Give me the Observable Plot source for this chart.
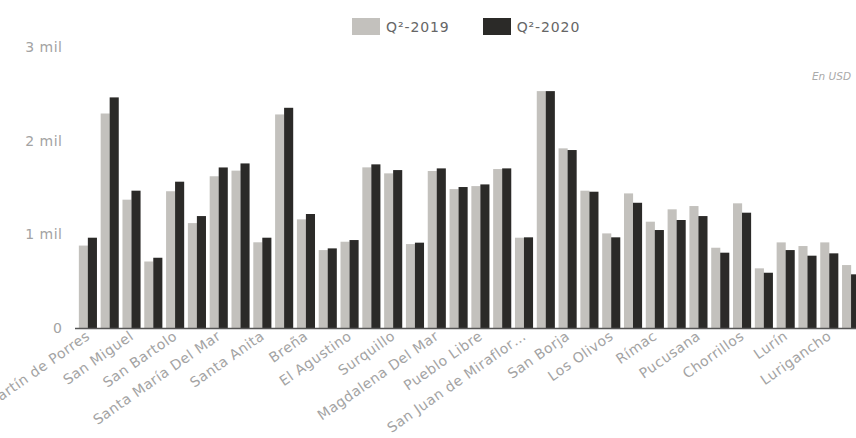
<!DOCTYPE html>
<html>
<head>
<meta charset="utf-8">
<script src="https://cdn.jsdelivr.net/npm/d3@7"></script>
<script src="https://cdn.jsdelivr.net/npm/@observablehq/plot@0.6"></script>
<style>
  html, body { margin: 0; padding: 0; background: #fff; overflow: hidden; }
  #wrap { position: relative; width: 856px; height: 438px; font-family: "DejaVu Sans", sans-serif; }
  #legend { position: absolute; top: 18px; left: 352px; display: flex; align-items: center; font-size: 14px; letter-spacing: 0.9px; color: #666; }
  .sw { width: 28px; height: 17px; margin-right: 6px; }
  .item { display: flex; align-items: center; margin-right: 33px; }
  #unit { position: absolute; top: 70px; right: 5px; font-size: 10.5px; font-style: italic; color: #aaa; }
  #chart { position: absolute; left: 0; top: 0; }
</style>
</head>
<body>
<div id="wrap">
  <div id="chart"></div>
  <div id="legend"></div>
  <div id="unit">En USD</div>
</div>
<script>
const districts = [
  "San Martín de Porres", "Santiago de Surco", "San Miguel", "Ate", "San Bartolo", "La Victoria",
  "Santa María Del Mar", "Jesús María", "Santa Anita", "Barranco", "Breña", "Comas",
  "El Agustino", "Lince", "Surquillo", "Independencia", "Magdalena Del Mar", "Lima",
  "Pueblo Libre", "La Molina", "San Juan de Miraflores", "San Isidro", "San Borja", "Miraflores",
  "Los Olivos", "Punta Hermosa", "Rímac", "Punta Negra", "Pucusana", "Carabayllo",
  "Chorrillos", "Villa El Salvador", "Lurín", "San Luis", "Lurigancho", "Puente Piedra"
];
const q2019 = [
  880, 2290, 1370, 710, 1460, 1120,
  1620, 1680, 915, 2280, 1160, 832,
  921, 1715, 1651, 896, 1676, 1483,
  1515, 1697, 964, 2529, 1918, 1466,
  1010, 1437, 1135, 1267, 1302, 857,
  1331, 637, 914, 875, 914, 672
];
const q2020 = [
  964, 2462, 1466, 750, 1562, 1195,
  1714, 1757, 964, 2351, 1217, 850,
  939, 1747, 1686, 911, 1704, 1505,
  1533, 1704, 968, 2529, 1900, 1455,
  968, 1337, 1046, 1153, 1195, 804,
  1231, 590, 832, 772, 797, 573
];
const seriesNames = ["Q²-2019", "Q²-2020"];
const seriesColors = ["#c3c1bd", "#2b2a28"];
const yTicks = [0, 1000, 2000, 3000];

const data = districts.map((d, i) => ({district: d, v2019: q2019[i], v2020: q2020[i]}));
const trunc = s => s.length > 20 ? s.slice(0, 20) + "…" : s;

const chart = Plot.plot({
  width: 856,
  height: 438,
  marginTop: 47,
  marginBottom: 110,
  marginLeft: 75,
  marginRight: 0,
  style: {fontFamily: "DejaVu Sans, sans-serif", fontSize: "14px", letterSpacing: "0.5px", color: "#a3a3a3", background: "transparent", overflow: "visible"},
  x: {domain: districts, range: [77, 862], round: false, paddingInner: 0.17, paddingOuter: 0.085, label: null},
  y: {domain: [0, 3000], label: null},
  marks: [
    Plot.barY(data, {x: "district", y: "v2019", fill: seriesColors[0], insetRight: 9}),
    Plot.barY(data, {x: "district", y: "v2020", fill: seriesColors[1], insetLeft: 9}),
    Plot.ruleY([0], {stroke: "#555", strokeWidth: 1.5}),
    Plot.axisY({ticks: yTicks, tickSize: 0, tickPadding: 13, fontSize: 14, fill: "#a3a3a3",
      tickFormat: d => d === 0 ? "0" : (d / 1000) + " mil"}),
    Plot.axisX({tickSize: 0, tickRotate: -35, tickPadding: 6, fill: "#a3a3a3",
      tickFormat: d => districts.indexOf(d) % 2 === 0 ? trunc(d) : ""})
  ]
});
document.getElementById("chart").appendChild(chart);

const legend = document.getElementById("legend");
seriesNames.forEach((n, i) => {
  const it = document.createElement("div");
  it.className = "item";
  const sw = document.createElement("div");
  sw.className = "sw";
  sw.style.background = seriesColors[i];
  const t = document.createElement("span");
  t.textContent = n;
  it.appendChild(sw);
  it.appendChild(t);
  legend.appendChild(it);
});
</script>
</body>
</html>
